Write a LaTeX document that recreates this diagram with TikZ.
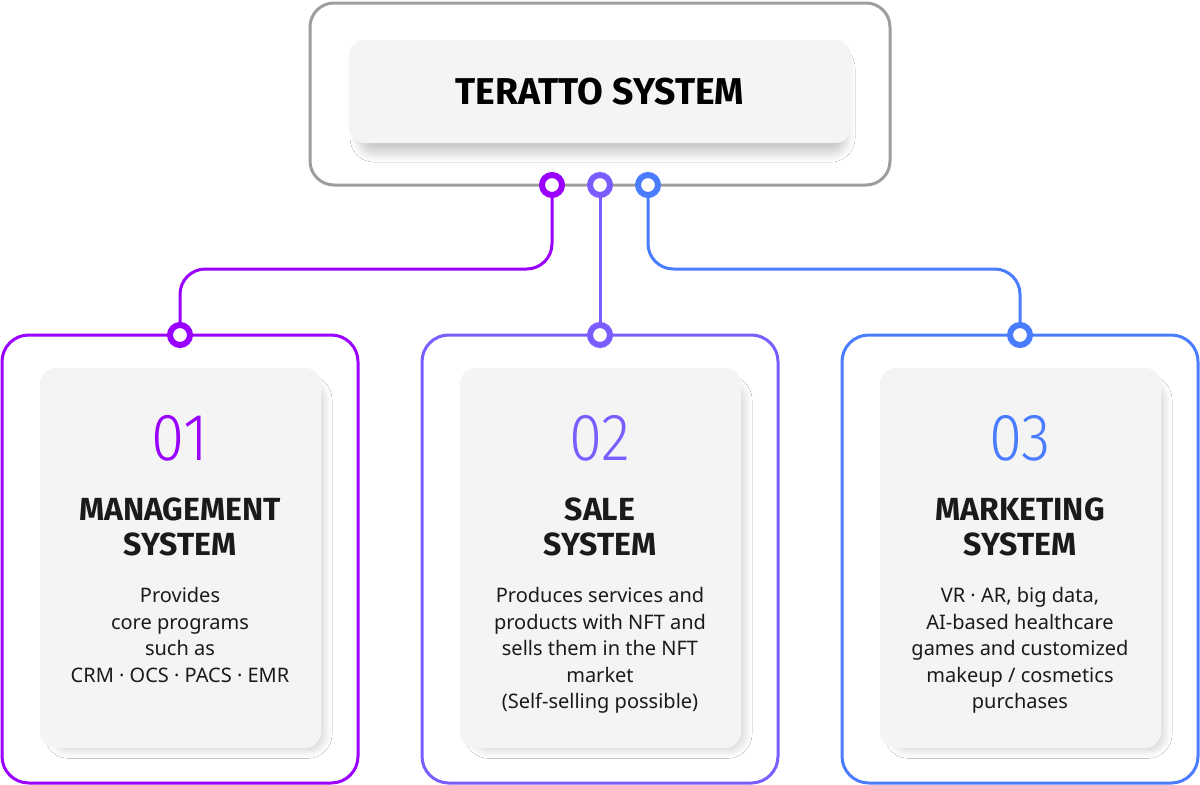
\documentclass[tikz,border=0pt]{standalone}
\usepackage{fontspec}
\setmainfont{Noto Sans}
\newfontfamily\headfont{Fira Sans}
\newfontfamily\numfont[FakeStretch=0.9]{Fira Sans Light}
\usetikzlibrary{shadows.blur}
\definecolor{cA}{HTML}{9900FF}
\definecolor{cB}{HTML}{7B5CFF}
\definecolor{cC}{HTML}{4A7CFF}
\definecolor{framegray}{HTML}{9E9E9E}
\definecolor{cardfill}{HTML}{F4F4F4}
\definecolor{ink}{HTML}{1A1A1A}
\tikzset{
  framebox/.style={draw=framegray, line width=2.25pt, rounded corners=18pt, fill=white, inner sep=0pt},
  outerbox/.style={line width=2.25pt, rounded corners=20pt, fill=white, inner sep=0pt,
    minimum width=267pt, minimum height=336pt},
  softshadow/.style={blur shadow={shadow xshift=6pt, shadow yshift=-7pt, shadow blur radius=7pt,
    shadow scale=0.96, shadow opacity=20, shadow blur steps=16}},
  cardbox/.style={fill=cardfill, rounded corners=12pt, inner sep=0pt,
    minimum width=210.75pt, minimum height=285pt, softshadow},
  ring/.style={circle, draw=#1, line width=4.5pt, fill=white, minimum size=15pt, inner sep=0pt},
  conn/.style={draw=#1, line width=2.25pt, rounded corners=19pt},
  numtext/.style={anchor=base, inner sep=0pt, font=\numfont\fontsize{50}{50}\selectfont},
  titletext/.style={anchor=north, inner sep=0pt, align=center, text=ink,
    font=\headfont\bfseries\fontsize{24}{26.25}\selectfont},
  bodytext/.style={anchor=north, inner sep=0pt, align=center, text=ink,
    font=\fontsize{15}{19.9}\selectfont},
}
\begin{document}
\begin{tikzpicture}[x=0.75pt,y=-0.75pt]
\useasboundingbox (0,0) rectangle (1200,785);

% top frame
\node[framebox, minimum width=435pt, minimum height=136.5pt] (top) at (600,94) {};
\node[fill=cardfill, rounded corners=12pt, inner sep=0pt, minimum width=376.5pt, minimum height=77.25pt,
  blur shadow={shadow xshift=2pt, shadow yshift=-9pt, shadow blur radius=7pt, shadow scale=0.97,
    shadow opacity=22, shadow blur steps=16}] (topcard) at (600,91.5) {};
\node[anchor=base, inner sep=0pt, text=black, font=\headfont\bfseries\fontsize{28}{28}\selectfont] (toptitle) at (600,104) {TERATTO SYSTEM};

% bottom frames
\node[outerbox, draw=cA] (boxA) at (180,559) {};
\node[outerbox, draw=cB] (boxB) at (600,559) {};
\node[outerbox, draw=cC] (boxC) at (1020,559) {};

% connector anchor points
\coordinate (pA) at (552,185);
\coordinate (pB) at (600,185);
\coordinate (pC) at (648,185);
\coordinate (qA) at (180,335);
\coordinate (qB) at (600,335);
\coordinate (qC) at (1020,335);

\draw[conn=cA] (pA) -- (pA |- 0,269) -- (qA |- 0,269) -- (qA);
\draw[conn=cB] (pB) -- (qB);
\draw[conn=cC] (pC) -- (pC |- 0,269) -- (qC |- 0,269) -- (qC);

\node[ring=cA] (rA) at (pA) {};
\node[ring=cB] (rB) at (pB) {};
\node[ring=cC] (rC) at (pC) {};
\node[ring=cA] (sA) at (qA) {};
\node[ring=cB] (sB) at (qB) {};
\node[ring=cC] (sC) at (qC) {};

% inner cards
\node[cardbox] (cardA) at (180.5,558) {};
\node[cardbox] (cardB) at (600.5,558) {};
\node[cardbox] (cardC) at (1020.5,558) {};

% numbers
\node[numtext, text=cA] (nA) at (180,460) {01};
\node[numtext, text=cB] (nB) at (600,460) {02};
\node[numtext, text=cC] (nC) at (1020,460) {03};

% titles
\node[titletext] (tA) at (180,498) {MANAGEMENT\\SYSTEM};
\node[titletext] (tB) at (600,498) {SALE\\SYSTEM};
\node[titletext] (tC) at (1020,498) {MARKETING\\SYSTEM};

% body
\node[bodytext] (bA) at (180,587) {Provides\\core programs\\such as\\CRM · OCS · PACS · EMR};
\node[bodytext] (bB) at (600,587) {Produces services and\\products with NFT and\\sells them in the NFT\\market\\(Self-selling possible)};
\node[bodytext] (bC) at (1020,587) {VR · AR, big data,\\AI-based healthcare\\games and customized\\makeup / cosmetics\\purchases};
\end{tikzpicture}
\end{document}
